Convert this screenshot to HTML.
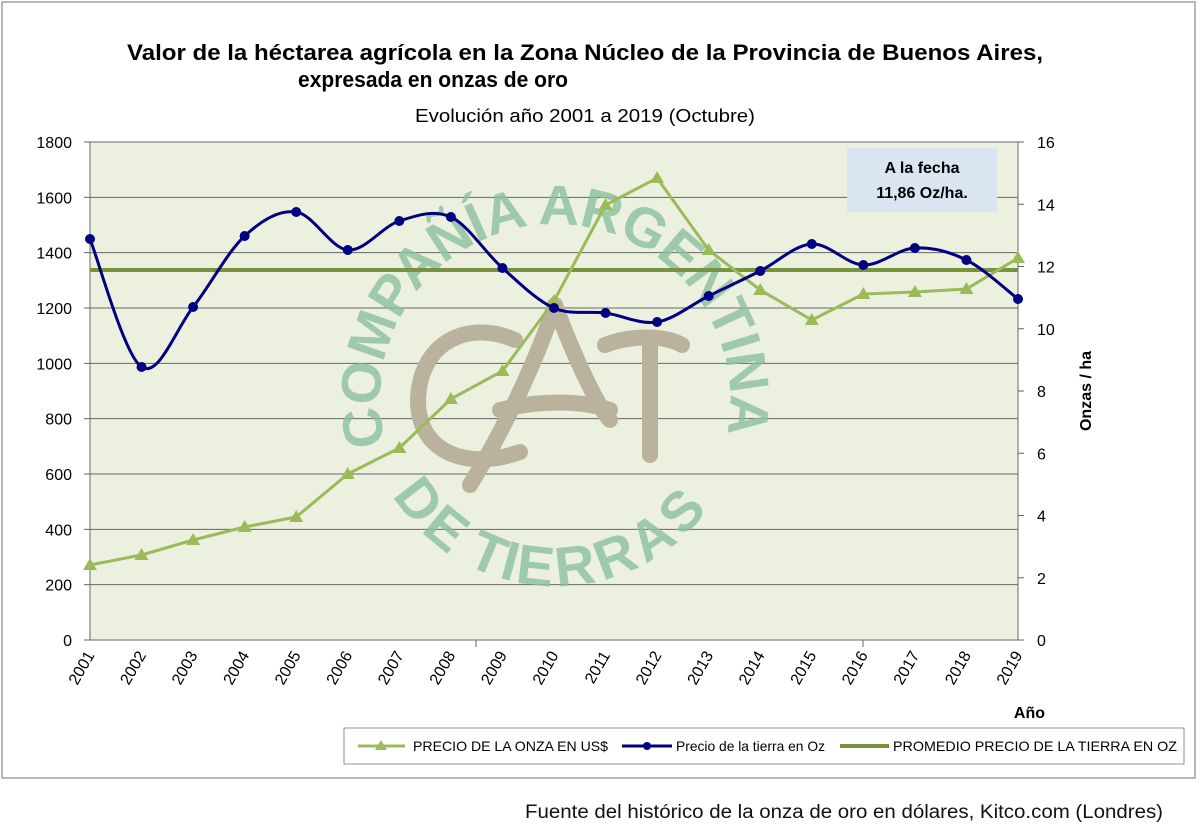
<!DOCTYPE html>
<html><head><meta charset="utf-8"><style>
body{margin:0;background:#fff;}
svg{display:block;font-family:"Liberation Sans",Arial,sans-serif;}
</style></head><body>
<svg id="s" width="1200" height="831" viewBox="0 0 1200 831" xmlns="http://www.w3.org/2000/svg">
<rect x="2" y="2" width="1193" height="776" fill="#fff" stroke="#a0a0a0" stroke-width="1.5"/>
<text x="127" y="60" font-size="22" font-weight="bold" textLength="916" lengthAdjust="spacingAndGlyphs">Valor de la héctarea agrícola en la Zona Núcleo de la Provincia de Buenos Aires,</text>
<text x="298" y="87" font-size="22" font-weight="bold" textLength="270" lengthAdjust="spacingAndGlyphs">expresada en onzas de oro</text>
<text x="415" y="122" font-size="18" textLength="340" lengthAdjust="spacingAndGlyphs">Evolución año 2001 a 2019 (Octubre)</text>
<rect x="90" y="142" width="928" height="498" fill="#ebf1de" stroke="#808080" stroke-width="1.2"/>
<g id="grid" stroke="#666" stroke-width="1"></g>
<g id="wm"></g>
<line x1="90" y1="270" x2="1018" y2="270" stroke="#77933c" stroke-width="4"/>
<g id="series"></g>
<rect x="847" y="148" width="150" height="64" fill="#dbe5f1"/>
<text x="922" y="173" text-anchor="middle" font-size="16" font-weight="bold">A la fecha</text>
<text x="922" y="198" text-anchor="middle" font-size="16" font-weight="bold">11,86 Oz/ha.</text>
<g id="labels" font-size="16"></g>
<text x="1091" y="391" text-anchor="middle" font-size="16" font-weight="bold" transform="rotate(-90 1091 391)">Onzas / ha</text>
<text x="1045" y="718" text-anchor="end" font-size="16" font-weight="bold">Año</text>
<rect x="344" y="728" width="840" height="36" fill="#fff" stroke="#909090"/>
<line x1="358" y1="746" x2="405" y2="746" stroke="#9bbb59" stroke-width="3"/>
<polygon points="381,740 387,750 375,750" fill="#9bbb59"/>
<text x="413" y="751" font-size="14" textLength="195" lengthAdjust="spacingAndGlyphs">PRECIO DE LA ONZA EN US$</text>
<line x1="622" y1="746" x2="672" y2="746" stroke="#000080" stroke-width="3"/>
<circle cx="647" cy="746" r="4" fill="#000080"/>
<text x="676" y="751" font-size="14" textLength="149" lengthAdjust="spacingAndGlyphs">Precio de la tierra en Oz</text>
<line x1="840" y1="746" x2="889" y2="746" stroke="#77933c" stroke-width="4"/>
<text x="893" y="751" font-size="14" textLength="284" lengthAdjust="spacingAndGlyphs">PROMEDIO PRECIO DE LA TIERRA EN OZ</text>
<text x="525" y="818" font-size="19" fill="#111" textLength="638" lengthAdjust="spacingAndGlyphs">Fuente del histórico de la onza de oro en dólares, Kitco.com (Londres)</text>
</svg>
<script>
var NS="http://www.w3.org/2000/svg";
function el(p,t,a,txt){var e=document.createElementNS(NS,t);for(var k in a)e.setAttribute(k,a[k]);if(txt!==undefined)e.textContent=txt;document.getElementById(p).appendChild(e);return e;}
var g="grid",L="labels";
for(var i=0;i<=9;i++){var y=640-i*498/9;if(i>0&&i<9)el(g,'line',{x1:90,x2:1018,y1:y,y2:y});
el(L,'text',{x:72,y:y+6,'text-anchor':'end'},String(i*200));
el(g,'line',{x1:84,x2:90,y1:y,y2:y});}
for(var i=0;i<=8;i++){var y=640-i*498/8;el(L,'text',{x:1037,y:y+6},String(i*2));el(g,'line',{x1:1018,x2:1024,y1:y,y2:y});}
el(g,'line',{x1:476,x2:476,y1:640,y2:647});el(g,'line',{x1:863,x2:863,y1:640,y2:647});
for(var i=0;i<19;i++){var x=90+i*928/18;el(L,'text',{x:x+5,y:655,'text-anchor':'end',transform:'rotate(-60 '+(x+5)+' 655)'},String(2001+i));}
// watermark
el('wm','path',{id:'arcTop',d:'M 386 445 A 175 175 0 1 1 724 445',fill:'none'});
el('wm','path',{id:'arcBot',d:'M 425 470 A 150 150 0 0 0 685 470',fill:'none'});
var st={'font-size':'56','font-weight':'bold',fill:'#8cbf9e','fill-opacity':'0.8'};
var t=el('wm','text',st);
var tp=document.createElementNS(NS,'textPath');tp.setAttribute('href','#arcTop');tp.setAttribute('textLength','630');tp.setAttribute('lengthAdjust','spacing');tp.textContent='COMPAÑÍA ARGENTINA';t.appendChild(tp);
var t2=el('wm','text',st);
var tp2=document.createElementNS(NS,'textPath');tp2.setAttribute('href','#arcBot');tp2.setAttribute('textLength','300');tp2.setAttribute('lengthAdjust','spacing');tp2.setAttribute('dominant-baseline','hanging');tp2.textContent='DE TIERRAS';t2.appendChild(tp2);
var lg={fill:'none',stroke:'#b9b29c',"stroke-width":16,"stroke-linecap":'round',"stroke-linejoin":'round'};
el('wm','path',Object.assign({d:'M 515 340 C 470 320 420 340 418 400 C 418 455 470 470 520 452'},lg));
el('wm','path',Object.assign({d:'M 470 485 C 510 420 540 350 555 305 C 575 360 600 410 610 420'},lg));
el('wm','path',Object.assign({d:'M 500 410 C 540 400 580 400 610 410'},lg));
el('wm','path',Object.assign({d:'M 605 345 C 630 335 665 335 682 345 M 650 340 L 650 455'},lg));
// series
var X=function(i){return 90+i*928/18;};
var gy=[565,555,540,527,517,474,448,399,371,301,205,178,250,290,320,294,292,289,258];
var by=[239,367,307,236,212,250,221,217,268,308,313,322,296,271,244,265,248,260,299];
var d='';gy.forEach(function(y,i){d+=(i?'L':'M')+X(i)+' '+y;});
el('series','path',{d:d,fill:'none',stroke:'#9bbb59','stroke-width':3});
gy.forEach(function(y,i){var x=X(i);el('series','polygon',{points:(x)+','+(y-7)+' '+(x+7)+','+(y+5)+' '+(x-7)+','+(y+5),fill:'#9bbb59'});});
var p=by.map(function(y,i){return [X(i),y];});var d2='M'+p[0][0]+' '+p[0][1];
for(var i=0;i<p.length-1;i++){var p0=p[Math.max(i-1,0)],p1=p[i],p2=p[i+1],p3=p[Math.min(i+2,p.length-1)];
d2+='C'+(p1[0]+(p2[0]-p0[0])/6)+' '+(p1[1]+(p2[1]-p0[1])/6)+' '+(p2[0]-(p3[0]-p1[0])/6)+' '+(p2[1]-(p3[1]-p1[1])/6)+' '+p2[0]+' '+p2[1];}
el('series','path',{d:d2,fill:'none',stroke:'#000080','stroke-width':3});
p.forEach(function(q){el('series','circle',{cx:q[0],cy:q[1],r:5,fill:'#000080'});});
</script>
</body></html>
